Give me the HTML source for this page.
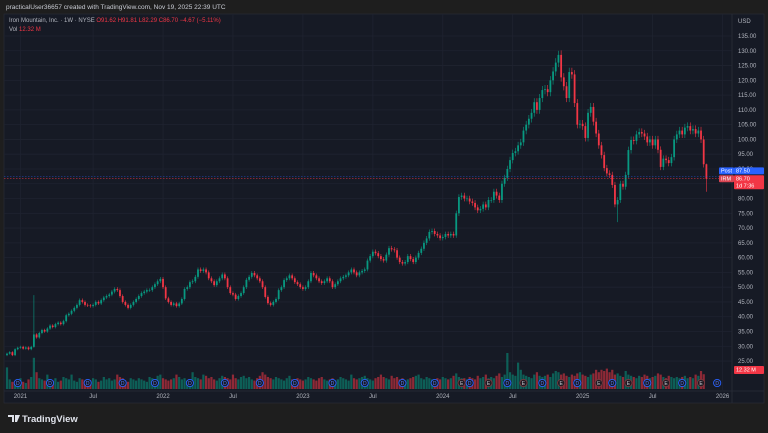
<!DOCTYPE html>
<html><head><meta charset="utf-8"><style>
html,body{margin:0;padding:0;background:#1e1e1e;width:768px;height:433px;overflow:hidden;font-family:"Liberation Sans",sans-serif}
svg{display:block}
</style></head><body>
<svg id="c" width="768" height="433" viewBox="0 0 768 433">
<rect x="0" y="0" width="768" height="433" fill="#1e1e1e"/>
<text x="6" y="9" fill="#c9ccd4" font-size="6.5">practicalUser36657 created with TradingView.com, Nov 19, 2025 22:39 UTC</text>
<rect x="4" y="14" width="760" height="389" fill="#161a25" stroke="#2a2e39" stroke-width="0.6"/>
<g id="grid"></g>
<g id="vol"></g>
<g id="candles"></g>
<g id="events"></g>
<g id="axes"></g>
<text x="9" y="22" font-size="6" fill="#b2b5be">Iron Mountain, Inc. · 1W · NYSE <tspan fill="#f23645">O91.62 H91.81 L82.29 C86.70 −4.67 (−5.11%)</tspan></text>
<text x="9" y="31" font-size="6" fill="#b2b5be">Vol <tspan fill="#f23645">12.32 M</tspan></text>
<text x="738" y="23" font-size="6" fill="#b2b5be">USD</text>
<g>
<path d="M8 415 h6 v7 h-2 v-5 h-4z M15 415 h5 l-3 7 h-2z" fill="#e0e3eb"/>
<text x="22" y="422" font-size="9.5" font-weight="bold" fill="#e0e3eb">TradingView</text>
</g>
</svg>
<script>
const closes=[27.5,28,27,29,29.5,29.8,29.2,29.6,29,29.8,
34,33,34.5,35.5,35,36,37,36.5,37.5,38,37.5,
38.5,40.5,41,42,43,44,45.6,45,44,43.8,
43.6,44,45,44.5,45.6,46.5,47,47.5,48.5,49.4,
49,47,45,44,43,44,45,46,47,48,
48.5,49,49,50,51,52,52.8,50,46.2,45,
44,44.5,43.6,44.5,46,49.4,50,51.7,52,53.5,
56,55.5,56,55,53,52,50.7,52,53,54.3,
53,50,48,47.5,46,47,48,50,52.5,53.5,
54.8,54,53,52,50,46.7,44.6,44,45,46,
49,50,52.4,53,54,53,51.7,51,50,49.4,
50,52,54.8,54,53,52,51.4,52,53,52,
50,51,52,53,53.5,54,55,56,55,54,
55,55.5,56,59,60.5,62,61.5,60.5,59.5,59,
61,63.2,62.8,62.5,60,58.5,58,58.5,60.5,59.5,
58.5,60,61.6,63,65,66.5,68.7,69,68,67.5,
66.6,67,68,67.5,68,67.5,75,80.5,81,80,
80,79,78.5,77,76,76.5,78,77,79.5,79.5,
82.3,81,79.5,85,87,90,93,95.4,96,98,
99,103,105,107,109,112.6,110,114,116.7,117,
116,120,123,126,128.6,121,118,114,122.8,122,
112.3,105,105.3,104.5,100.5,109,111,106,102,98,
94.7,90.3,88.5,88,84.6,78,79.5,85,84,88,
96.4,99.8,99.5,101.7,102.5,102,101,99,100,98,
100,96.5,90.7,93.5,93,92,94,100,101.7,103,
101.7,104,104.5,103,103.5,102,103,100,91.6,86.7];
const highOverrides={10:47.3,205:130,260:91.8};
const lowOverrides={10:29.5,227:72,260:82.3};
const volumes=[18,8,6,5,7,9,6,5,8,10,
26,14,9,8,7,12,8,7,9,6,
7,10,9,8,12,7,6,9,8,7,
6,7,9,8,6,7,10,8,9,7,
8,12,10,9,7,6,9,8,7,9,
8,7,6,10,9,8,11,12,9,8,
7,8,9,12,10,8,9,7,8,14,
10,9,8,12,11,9,10,8,7,9,
11,10,9,8,12,9,8,10,11,9,
10,8,7,9,11,14,12,10,9,8,
10,9,8,7,9,11,8,7,9,8,
7,8,10,9,8,7,9,10,8,7,
8,9,7,8,10,9,8,7,12,9,
8,9,10,11,9,8,7,9,10,12,
10,9,8,11,9,10,8,9,7,8,
9,10,11,12,9,8,10,9,8,7,
9,8,10,9,8,9,11,13,10,9,
9,8,10,9,8,11,9,10,12,9,
10,9,11,13,10,12,30,14,12,11,
22,16,12,11,10,9,12,14,11,10,
11,12,10,13,15,14,12,13,11,10,
12,11,13,14,12,11,10,12,13,16,
14,16,15,17,14,16,12,13,11,10,
15,12,11,10,9,11,10,12,11,9,
10,11,13,12,10,9,11,10,9,10,
9,10,11,9,10,9,12,11,15,12.3];
const priceTicks=[135,130,125,120,115,110,105,100,95,90,85,80,75,70,65,60,55,50,45,40,35,30,25];
const timeLabels=["2021","Jul","2022","Jul","2023","Jul","2024","Jul","2025","Jul","2026"];
const timeLabelWeeks=[5,32,58,84,110,136,162,188,214,240,266];
const dividendWeeks=[4,16,30,43,55,68,81,94,107,121,133,147,159,172,186,199,212,225,238,251,264];
const earningsWeeks=[169,179,192,206,220,231,245,258];
const NS="http://www.w3.org/2000/svg";
const X=i=>7+i*2.69;
const Y=p=>36+(135-p)*2.955;
const VB=389, VS=1.2;
const UP="#089981", DN="#f23645";
function mk(tag,attrs,parent){const e=document.createElementNS(NS,tag);for(const k in attrs)e.setAttribute(k,attrs[k]);parent.appendChild(e);return e;}
const grid=document.getElementById('grid'),axes=document.getElementById('axes');
priceTicks.forEach(v=>{
 const g=mk('line',{x1:4,x2:732,y1:Y(v),y2:Y(v),stroke:'#1f2330','stroke-width':0.8},grid);
 
 
 const t=mk('text',{x:738,y:Y(v)+2,'font-size':6,fill:'#b2b5be'},axes);
 t.textContent=v.toFixed(2);
 
 
});
timeLabels.forEach((l,k)=>{
 const x=X(timeLabelWeeks[k]);
 const g=mk('line',{x1:x,x2:x,y1:14,y2:390,stroke:'#1f2330','stroke-width':0.8},grid);
 
 
 const t=mk('text',{x:x,y:398,'font-size':6,fill:'#b2b5be','text-anchor':'middle'},axes);
 t.textContent=l;
 
 
});
const ax=mk('line',{x1:732,x2:732,y1:14,y2:403,stroke:'#2a2e39','stroke-width':0.8},axes);


const bx=mk('line',{x1:4,x2:764,y1:391,y2:391,stroke:'#2a2e39','stroke-width':0.8},axes);


const vol=document.getElementById('vol'),cg=document.getElementById('candles');
closes.forEach((c,i)=>{
 const o=i===0?c-0.5:closes[i-1];
 const up=c>=o;
 const hi=highOverrides[i]!==undefined?highOverrides[i]:Math.max(o,c)*1.012;
 const lo=lowOverrides[i]!==undefined?lowOverrides[i]:Math.min(o,c)*0.988;
 const x=X(i);
 const v=volumes[i];
 const vb=mk('rect',{x:x-1.1,y:VB-v*VS,width:2.2,height:v*VS,fill:up?UP:DN,opacity:0.55},vol);
 
 
 const w=mk('line',{x1:x,x2:x,y1:Y(hi),y2:Y(lo),stroke:up?UP:DN,'stroke-width':0.6},cg);
 
 
 const top=Y(Math.max(o,c)),bot=Y(Math.min(o,c));
 const b=mk('rect',{x:x-0.9,y:top,width:1.8,height:Math.max(bot-top,0.6),fill:up?UP:DN},cg);
 
 
});
const ev=document.getElementById('events');
dividendWeeks.forEach(w=>{
 const m=mk('circle',{cx:X(w),cy:383,r:3.6,fill:'#161a25',stroke:'#2962ff','stroke-width':0.9},ev);
 
 
 const t=mk('text',{x:X(w),y:385,'font-size':5,fill:'#5b7cff','text-anchor':'middle'},ev);
 t.textContent='D';
 
 
});
earningsWeeks.forEach(w=>{
 const m=mk('circle',{cx:X(w),cy:383,r:3.6,fill:'#1f1a22',stroke:'#7a3a40','stroke-width':0.9},ev);
 
 
 const t=mk('text',{x:X(w),y:385,'font-size':5,fill:'#c9ccd4','text-anchor':'middle'},ev);
 t.textContent='E';
 
 
});
const last=closes[closes.length-1];
const l1=mk('line',{x1:4,x2:732,y1:Y(87.5),y2:Y(87.5),stroke:'#2962ff','stroke-width':0.6,'stroke-dasharray':'1.5,1.5',opacity:0.7},axes);


const l2=mk('line',{x1:4,x2:732,y1:Y(last),y2:Y(last),stroke:DN,'stroke-width':0.6,'stroke-dasharray':'1.5,1.5',opacity:0.8},axes);


function tag(x,y,w,h,fill,txt,name){
 const r=mk('rect',{x:x,y:y,width:w,height:h,fill:fill,rx:1},axes);
 
 
 const t=mk('text',{x:x+2,y:y+5.3,'font-size':5.5,fill:'#ffffff'},axes);
 t.textContent=txt;
 
 
}
tag(719,Y(87.5)-9,15,7,'#2962ff','Post','post-label');
tag(734,Y(87.5)-9,30,7,'#2962ff','87.50','post-price-tag');
tag(719,Y(last)-3.5,15,7,'#d94452','IRM','symbol-label');
tag(734,Y(last)-3.5,30,14,DN,'86.70','last-price-tag');
const cd=mk('text',{x:736,y:Y(last)+9,'font-size':5.5,fill:'#ffffff'},axes);
cd.textContent='1d 7:36';


tag(734,366,30,8,DN,'12.32 M','volume-tag');
</script>
</body></html>
